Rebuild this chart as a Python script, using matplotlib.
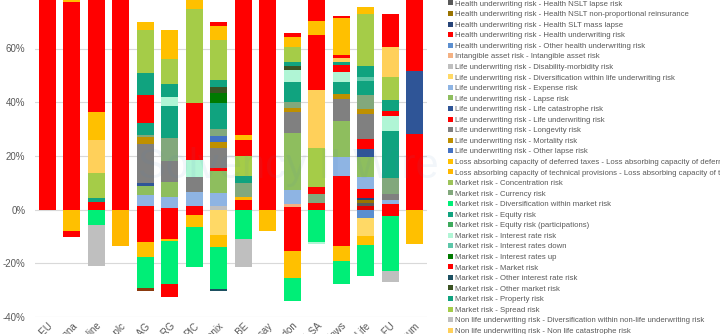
import matplotlib.pyplot as plt
from matplotlib.patches import Patch
import numpy as np

plt.rcParams['font.family'] = ['Liberation Sans', 'DejaVu Sans']

# 16 insurers (only the tail of each name is visible in the crop)
companies = ["Aviva EU", "Helvetia Vienna", "Utmost Online", "Just Group plc", "Swiss Life AG",
             "Aegon RG", "PIC", "Phoenix", "Ageas BE", "Rothesay", "Royal London", "AXA SA",
             "Scottish Widows", "Canada Life", "Aegon FU", "Aegon Platinum"]

# SCR breakdown (% of SCR), one list per risk module, in stacking order
health_cat     = [0, 0, 0, 0, 0, 0, 0, 0, 0, 0, 0, 0, 0, 1.5, 0, 0]
nslt_lapse     = [0, 0, 0, 0, 0, 0, 0, 0, 0, 0, 0, 0, 0, 0.8, 0, 0]
nslt_nonprop   = [0, 0, 0, 0, 0, 0, 0, 0, 0, 0, 0, 0, 0, 1.1, 0, 0]
slt_mass_lapse = [0, 0, 0, 0, 0, 0, 0, 0, 0, 0, 0, 0, 0, 0.8, 0, 0]
health_uw      = [0, 0, 0, 0, 1.5, 0.6, 1.5, 0, 0, 0, 1.1, 2.3, 12.7, 3.5, 1.9, 28.2]
other_health   = [0, 0, 0, 0, 0, 0, 0, 0, 0, 0, 0, 0, 0, -3.2, 0, 0]
intangible     = [0, 0, 0, 0, 0, 0, 0, 0, 0, 0, 0.8, 0, 0, 0, 0, 0]
disability     = [0, 0, 0, 0, 0, 0, 0, 1.5, 0, 0, 0, 0, 0, 0, 0, 0]
div_life       = [0, 0, 0, 0, 0, 0, 0, -9.3, 0, 0, 0, 0, 0, -6.7, 0, 0]
expense        = [0, 0, 0, 0, 4.0, 4.0, 4.9, 4.6, 0, 0, 5.4, 0, 7.0, 4.6, 1.5, 0]
lapse          = [0, 0, 0, 0, 3.4, 5.6, 0, 8.4, 0, 0, 21.3, 0, 13.2, 7.2, 0, 0]
life_cat       = [0, 0, 0, 0, 0.9, 0, 0, 0, 0, 0, 0, 0, 0, 3.1, 0, 23.3]
life_uw        = [95, 77.3, 0, 95, -11.9, -10.9, -1.9, 0.9, 3.7, 95, -15.3, 0, -13.7, 3.7, -2.2, 40]
longevity      = [0, 0, 0, 0, 14.7, 8.0, 5.9, 7.6, 0, 0, 7.9, 0, 8.3, 9.3, 2.4, 0]
mortality      = [0, 0, 0, 0, 2.4, 0, 0, 2.1, 0, 0, 1.4, 0, 1.9, 1.9, 0, 0]
other_lapse    = [0, 0, 0, 0, 0, 0, 0, 2.2, 0, 0, 0, 0, 0, 0, 0, 0]
lac_dt         = [0, -7.8, 0, 0, -5.6, -0.9, -4.7, -4.5, 0, -8.1, -10.1, 0, -5.5, -3.1, 0, -12.8]
lac_tp         = [0, 0, 0, -13.7, 0, 0, 0, 0, 0.9, 0, 0, 0, 0, 0, 0, 0]
concentration  = [0, 0, 0, 0, 0, 0, 0, 0, 0, 0, 0, 0, 0, 0, 0, 0]
currency       = [0, 0, 0, 0, 1.0, 8.4, 0, 2.8, 5.2, 0, 2.1, 3.5, 0, 5.0, 5.9, 0]
div_market     = [0, 0, -5.6, 0, -11.8, -15.9, -14.9, -15.7, -10.9, 0, -8.7, -11.9, -8.5, -11.6, -20.5, 0]
equity         = [0, 0, 0, 0, 4.2, 12.1, 0, 9.5, 2.9, 0, 7.7, 0, 4.3, 5.5, 17.7, 0]
equity_part    = [0, 0, 0, 0, 0, 0, 0, 0, 0, 0, 0, 0, 0, 0, 0, 0]
ir_risk        = [0, 0, 0, 0, 0, 3.4, 6.1, 0, 0, 0, 4.4, -0.9, 3.7, 0, 5.3, 0]
ir_down        = [0, 0, 0, 0, 0, 0, 0, 0, 0, 0, 0, 0, 0, 1.5, 0, 0]
ir_up          = [0, 0, 0, 0, 0, 0, 0, 3.7, 0, 0, 0, 0, 0, 0, 0, 0]
market         = [0, -2.5, 2.7, 0, 10.4, -5.0, 21.4, 0, 0, 0, 0, 2.8, 2.9, 0, 1.9, 0]
other_ir       = [0, 0, 0, 0, 0, 0, 0, -0.9, 0, 0, 0, 0, 0, 0, 0, 0]
other_market   = [0, 0, 0, 0, 0, 0, 0, 2.5, 0, 0, 1.3, 0, 0, 0, 0, 0]
property_risk  = [0, 0, 1.5, 0, 8.3, 4.5, 0, 2.6, 0, 0, 1.5, 0, 0.9, 4.1, 4.4, 0]
spread         = [0, 0, 9.3, 0, 16.2, 9.5, 34.9, 14.9, 7.4, 0, 5.5, 14.2, 0, 19.3, 8.3, 0]
nl_div         = [0, 0, -15.5, 0, 0, 0, 0, 0, -10.6, 0, 0, 0, 0, 0, -4.4, 0]
nl_cat         = [0, 0, 12.4, 0, 0, 0, 0, 0, 0, 0, 0, 21.9, 1.6, 0, 11.1, 0]
nl_lapse       = [0, 0, 0, 0, -0.9, 0, 0, 0, 0, 0, 0, 0, 0, 0, 0, 0]
nl_prem        = [0, 0, 0, 0, 0, 0, 0, 0, 6.0, 0, 0, 20.5, 1.2, 0, 12.5, 0]
nl_uw          = [0, 5, 10.6, 0, 3.0, 10.9, 5.0, 5.0, 1.8, 0, 4.0, 4.9, 13.7, 2.7, 0, 0]
operational    = [0, 0, 60, 0, 0, 0, 0, 1.5, 60, 0, 1.4, 15, 0.6, 0, 0, 0]

series = [
    ("Health underwriting risk - Health catastrophe risk", "#E00000", health_cat),
    ("Health underwriting risk - Health NSLT lapse risk", "#595959", nslt_lapse),
    ("Health underwriting risk - Health NSLT non-proportional reinsurance", "#997300", nslt_nonprop),
    ("Health underwriting risk - Health SLT mass lapse", "#264478", slt_mass_lapse),
    ("Health underwriting risk - Health underwriting risk", "#FF0000", health_uw),
    ("Health underwriting risk - Other health underwriting risk", "#5B8FD0", other_health),
    ("Intangible asset risk - Intangible asset risk", "#F4B183", intangible),
    ("Life underwriting risk - Disability-morbidity risk", "#BFBFBF", disability),
    ("Life underwriting risk - Diversification within life underwriting risk", "#FFD966", div_life),
    ("Life underwriting risk - Expense risk", "#8EB4E3", expense),
    ("Life underwriting risk - Lapse risk", "#8EBE5E", lapse),
    ("Life underwriting risk - Life catastrophe risk", "#2F5597", life_cat),
    ("Life underwriting risk - Life underwriting risk", "#FF0000", life_uw),
    ("Life underwriting risk - Longevity risk", "#808080", longevity),
    ("Life underwriting risk - Mortality risk", "#BF9000", mortality),
    ("Life underwriting risk - Other lapse risk", "#4472C4", other_lapse),
    ("Loss absorbing capacity of deferred taxes - Loss absorbing capacity of deferred taxes", "#FFC000", lac_dt),
    ("Loss absorbing capacity of technical provisions - Loss absorbing capacity of technical provisions", "#FFB800", lac_tp),
    ("Market risk - Concentration risk", "#9DC35A", concentration),
    ("Market risk - Currency risk", "#82A87C", currency),
    ("Market risk - Diversification within market risk", "#00EE77", div_market),
    ("Market risk - Equity risk", "#10A37F", equity),
    ("Market risk - Equity risk (participations)", "#3DAA5C", equity_part),
    ("Market risk - Interest rate risk", "#B0F5D5", ir_risk),
    ("Market risk - Interest rates down", "#5CC6A8", ir_down),
    ("Market risk - Interest rates up", "#007A00", ir_up),
    ("Market risk - Market risk", "#FF0000", market),
    ("Market risk - Other interest rate risk", "#1D5061", other_ir),
    ("Market risk - Other market risk", "#3B5323", other_market),
    ("Market risk - Property risk", "#10A37F", property_risk),
    ("Market risk - Spread risk", "#A5CC48", spread),
    ("Non life underwriting risk - Diversification within non-life underwriting risk", "#BFBFBF", nl_div),
    ("Non life underwriting risk - Non life catastrophe risk", "#FFD05A", nl_cat),
    ("Non life underwriting risk - Non life lapse risk", "#8B3A0E", nl_lapse),
    ("Non life underwriting risk - Non life premium and reserve risk", "#FF0000", nl_prem),
    ("Non life underwriting risk - Non life underwriting risk", "#FFC000", nl_uw),
    ("Operational risk - Operational risk", "#FF0000", operational),
]

fig = plt.figure(figsize=(7.2, 3.34), dpi=100)
ax = fig.add_axes([35 / 720, 17 / 334, 392 / 720, 322.2 / 334])

x = np.arange(len(companies))
width = 0.69
pos_bottom = np.zeros(len(companies))
neg_bottom = np.zeros(len(companies))
for label, color, vals in series:
    v = np.array(vals, dtype=float)
    pos = np.where(v > 0, v, 0)
    neg = np.where(v < 0, v, 0)
    ax.bar(x, pos, width, bottom=pos_bottom, color=color, linewidth=0)
    ax.bar(x, neg, width, bottom=neg_bottom, color=color, linewidth=0)
    pos_bottom += pos
    neg_bottom += neg

ax.set_xlim(-0.5, len(companies) - 0.5)
ax.set_ylim(-40, 80)
ax.set_yticks([-40, -20, 0, 20, 40, 60])
ax.set_yticklabels([f"{t}%" for t in [-40, -20, 0, 20, 40, 60]])
ax.set_xticks(x)
ax.set_xticklabels(companies, rotation=45, ha='right', rotation_mode='anchor')
ax.tick_params(length=0, colors='#595959', labelsize=7)
ax.tick_params(axis='y', pad=7)
ax.tick_params(axis='x', pad=3)
for s in ax.spines.values():
    s.set_visible(False)
ax.grid(axis='y', color='#D9D9D9', linewidth=0.8)
ax.set_axisbelow(True)

# faint watermark
fig.text(0.40, 0.50, "Solvency II Wire", fontsize=30, color='#4F81BD', alpha=0.07,
         ha='center', va='center')

handles = [Patch(facecolor=c, label=l) for l, c, _ in series]
fig.legend(handles=handles, loc='upper left', bbox_to_anchor=(448 / 720, 1 + 10.1 / 334),
           frameon=False, borderpad=0, borderaxespad=0,
           prop={'family': ['Liberation Sans Narrow', 'Liberation Sans'], 'size': 5.6},
           labelcolor='#595959', handlelength=0.6, handleheight=0.6,
           handletextpad=0.3, labelspacing=0.43)

fig.savefig("out.png", dpi=100)
